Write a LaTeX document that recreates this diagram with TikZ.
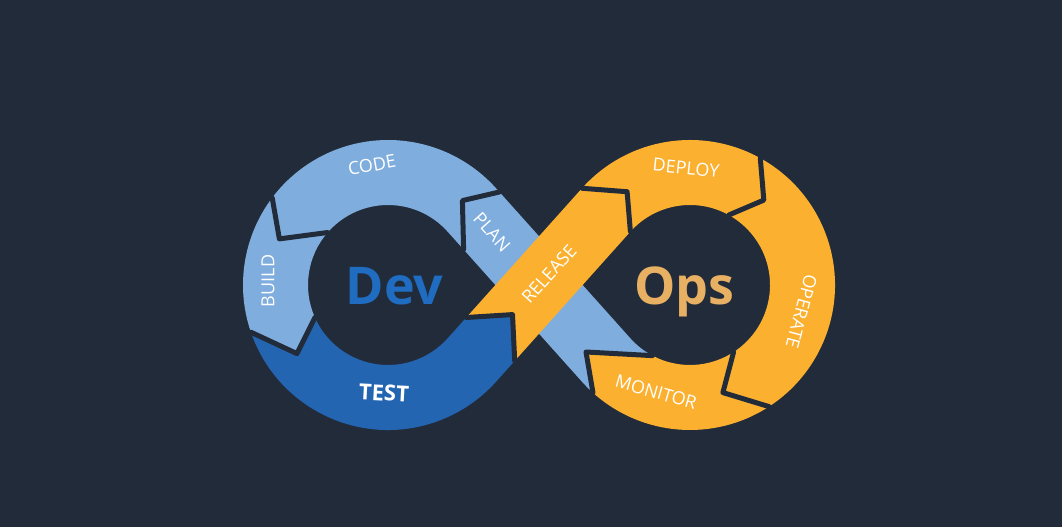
\documentclass[tikz,border=0pt]{standalone}
\usepackage{fontspec}
\setsansfont{Open Sans}
\usepackage{tikz}
\usetikzlibrary{calc}
\definecolor{bgnavy}{HTML}{222B3A}
\definecolor{devlight}{HTML}{7FADDE}
\definecolor{devdark}{HTML}{2465B2}
\definecolor{opsorange}{HTML}{FBB02F}
\definecolor{devtext}{HTML}{1F6CC0}
\definecolor{opstext}{HTML}{E8B063}

\begin{document}
\begin{tikzpicture}[x=1pt,y=1pt,
	seamline/.style={draw=bgnavy,line width=5pt,line join=round,line cap=round},
	stagelabel/.style={text=white,inner sep=0pt,font=\sffamily\fontsize{18}{18}\selectfont},
	biglabel/.style={inner sep=0pt,anchor=base,font=\sffamily\bfseries\fontsize{52}{52}\selectfont}]
	\fill[bgnavy] (0,0) rectangle (1062,527);
	\coordinate (L) at (388,242);
	\coordinate (R) at (690,242);

	\fill[devlight] ($(R)+(-132:145)$) arc[start angle=-132, end angle=-138.16, radius=145] -- (463.6,277.5) -- (462.4,326.4) -- (499.4,335.0) -- ($(R)+(221.84:80)$) arc[start angle=221.84, end angle=242, radius=80] -- (586,175) -- cycle;
	\fill[devlight] (499.4,335.0) -- ($(L)+(41.84:145)$) arc[start angle=41.84, end angle=143, radius=145] -- ($(L)+(157:118)$) -- ($(L)+(139:80)$) arc[start angle=139, end angle=41.84, radius=80] -- (463.6,277.5) -- (462.4,326.4) -- cycle;
	\fill[devlight] ($(L)+(143:145)$) arc[start angle=143, end angle=199, radius=145] -- ($(L)+(217:114)$) -- ($(L)+(204:80)$) arc[start angle=204, end angle=139, radius=80] -- ($(L)+(157:118)$) -- cycle;
	\fill[devdark] ($(L)+(199:145)$) arc[start angle=199, end angle=318.16, radius=145] -- (514.7,166.1) -- (512.5,212.4) -- (466.3,209.5) -- ($(L)+(318.16:80)$) arc[start angle=318.16, end angle=204, radius=80] -- ($(L)+(217:114)$) -- cycle;
	\fill[opsorange] (514.7,166.1) -- ($(R)+(138.16:80)$) -- ($(R)+(124:112.5)$) -- ($(R)+(138.16:145)$) -- (466.3,209.5) -- (512.5,212.4) -- cycle;
	\fill[opsorange] ($(R)+(138.16:145)$) arc[start angle=138.16, end angle=61, radius=145] -- ($(R)+(49:112.5)$) -- ($(R)+(61:80)$) arc[start angle=61, end angle=138.16, radius=80] -- ($(R)+(124:112.5)$) -- cycle;
	\fill[opsorange] ($(R)+(61:145)$) arc[start angle=61, end angle=-57, radius=145] -- ($(R)+(-73:112.5)$) -- ($(R)+(-57:80)$) arc[start angle=-57, end angle=61, radius=80] -- ($(R)+(49:112.5)$) -- cycle;
	\fill[opsorange] ($(R)+(-57:145)$) arc[start angle=-57, end angle=-132, radius=145] -- (586,175) -- ($(R)+(-118:80)$) arc[start angle=-118, end angle=-57, radius=80] -- ($(R)+(-73:112.5)$) -- cycle;

	\draw[seamline] (499.4,335.0) -- (462.4,326.4) -- (463.6,277.5);
	\draw[seamline] ($(L)+(143:145)$) -- ($(L)+(157:118)$) -- ($(L)+(139:80)$);
	\draw[seamline] ($(L)+(199:145)$) -- ($(L)+(217:114)$) -- ($(L)+(204:80)$);
	\draw[seamline] (514.7,166.1) -- (512.5,212.4) -- (466.3,209.5);
	\draw[seamline] ($(R)+(138.16:145)$) -- ($(R)+(124:112.5)$) -- ($(R)+(138.16:80)$);
	\draw[seamline] ($(R)+(61:145)$) -- ($(R)+(49:112.5)$) -- ($(R)+(61:80)$);
	\draw[seamline] ($(R)+(-57:145)$) -- ($(R)+(-73:112.5)$) -- ($(R)+(-57:80)$);
	\draw[seamline] ($(R)+(-132:145)$) -- (586,175) -- ($(R)+(-118:80)$);

	\node[biglabel,text=devtext] (dev) at (394.5,222) {Dev};
	\node[biglabel,text=opstext] (ops) at (684.5,222) {Ops};
	\node[stagelabel,rotate=10] (code) at (372,362) {CODE};
	\node[stagelabel,rotate=90] (build) at (268,246) {BUILD};
	\node[stagelabel,rotate=-3,font=\sffamily\bfseries\fontsize{22}{22}\selectfont] (test) at (384,134) {TEST};
	\node[stagelabel,rotate=-48] (plan) at (492,295) {PLAN};
	\node[stagelabel,rotate=48] (release) at (549,253) {RELEASE};
	\node[stagelabel,rotate=-6] (deploy) at (686,359) {DEPLOY};
	\node[stagelabel,rotate=-105] (operate) at (801.5,215.5) {OPERATE};
	\node[stagelabel,rotate=-16] (monitor) at (656,135) {MONITOR};
\end{tikzpicture}
\end{document}
